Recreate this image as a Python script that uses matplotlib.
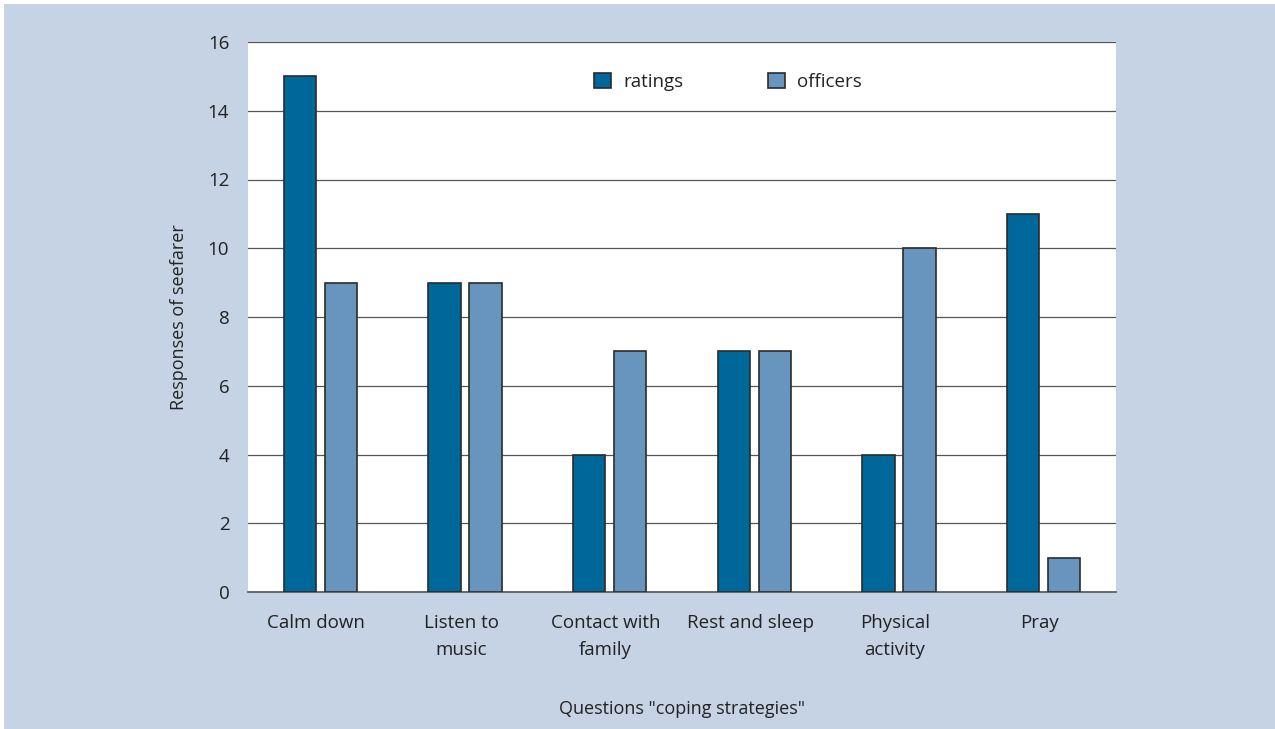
import matplotlib
matplotlib.use("Agg")
import matplotlib.pyplot as plt
import matplotlib.transforms as mtransforms
import numpy as np
from matplotlib.patches import Rectangle

categories = ["Calm down", "Listen to\nmusic", "Contact with\nfamily", "Rest and sleep", "Physical\nactivity", "Pray"]
ratings = [15, 9, 4, 7, 4, 11]
officers = [9, 9, 7, 7, 10, 1]
yticks = [0, 2, 4, 6, 8, 10, 12, 14, 16]

plt.rcParams['font.family'] = ['Open Sans', 'DejaVu Sans']
bg = '#c5d3e4'
fig = plt.figure(figsize=(12.75, 7.29), dpi=100)
fig.patch.set_facecolor('white')
fig.patches.append(Rectangle((4/1275, 0), 1 - 4/1275, 1 - 4/729, transform=fig.transFigure,
                             facecolor=bg, edgecolor='none', zorder=-10))
ax = fig.add_axes([248/1275, 1 - 592/729, (1116 - 248)/1275, (592 - 42)/729])
ax.set_facecolor('white')

x = np.arange(len(categories))
w = 0.225
off = 0.142
ax.bar(x - off, ratings, w, color='#00679a', edgecolor='#2b2b2b', linewidth=1.2, label='ratings', zorder=3)
ax.bar(x + off, officers, w, color='#6895bd', edgecolor='#2b2b2b', linewidth=1.2, label='officers', zorder=3)

ax.set_xlim(-0.5, len(categories) - 0.5)
ax.set_ylim(0, 16)
ax.set_yticks(yticks)
ax.yaxis.grid(True, color='#555555', linewidth=0.9, zorder=0)
ax.set_axisbelow(True)
for s in ['left', 'right', 'top']:
    ax.spines[s].set_visible(False)
ax.spines['bottom'].set_color('#555555')
ax.spines['bottom'].set_linewidth(1.2)
ax.tick_params(axis='both', length=0, labelsize=13.5, colors='#222222')
ax.tick_params(axis='x', pad=15.5)
ax.tick_params(axis='y', pad=13.5)
ax.set_xticks(x)
ax.set_xticklabels(categories, linespacing=1.65)
shift = mtransforms.ScaledTranslation(-4/100, 0, fig.dpi_scale_trans)
for lbl in ax.get_xticklabels():
    lbl.set_transform(lbl.get_transform() + shift)

ax.set_ylabel('Responses of seefarer', fontsize=13, color='#222222', labelpad=14)
ax.set_xlabel('Questions "coping strategies"', fontsize=13, color='#222222', labelpad=30)

leg = ax.legend(loc='upper center', bbox_to_anchor=(0.553, 0.975), ncol=2, frameon=False,
                fontsize=13.5, handlelength=0.9, handleheight=0.9, columnspacing=4.55, handletextpad=0.62)
for t in leg.get_texts():
    t.set_color('#222222')

fig.savefig('out.png', dpi=100, facecolor=fig.get_facecolor())
